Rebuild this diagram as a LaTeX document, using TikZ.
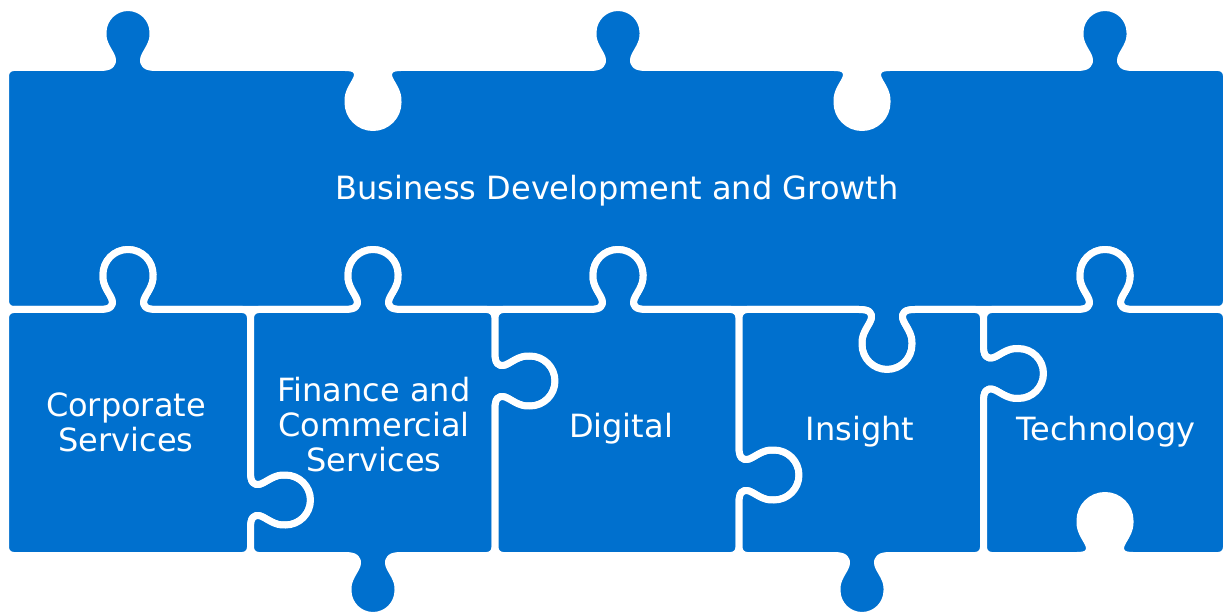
\documentclass[tikz,border=0pt]{standalone}
\usepackage{fontspec}
\setmainfont{DejaVu Sans}
\definecolor{pblue}{RGB}{0,112,206}
% point at offset (a,h) from base (bx,by) along u and n
\newcommand\kq[8]{({#1+(#7)*(#3)+(#8)*(#5)},{#2+(#7)*(#4)+(#8)*(#6)})}
% puzzle knob: base x,y ; direction of travel ux,uy ; knob direction nx,ny
\newcommand\knob[6]{\expanded{{[sharp corners]
 -- \kq{#1}{#2}{#3}{#4}{#5}{#6}{-28}{0}
 .. controls \kq{#1}{#2}{#3}{#4}{#5}{#6}{-18}{0} and \kq{#1}{#2}{#3}{#4}{#5}{#6}{-14}{3} .. \kq{#1}{#2}{#3}{#4}{#5}{#6}{-16}{10}
 .. controls \kq{#1}{#2}{#3}{#4}{#5}{#6}{-18}{16} and \kq{#1}{#2}{#3}{#4}{#5}{#6}{-26}{24} .. \kq{#1}{#2}{#3}{#4}{#5}{#6}{-25}{35}
 .. controls \kq{#1}{#2}{#3}{#4}{#5}{#6}{-25}{48.8} and \kq{#1}{#2}{#3}{#4}{#5}{#6}{-13.8}{60} .. \kq{#1}{#2}{#3}{#4}{#5}{#6}{0}{60}
 .. controls \kq{#1}{#2}{#3}{#4}{#5}{#6}{13.8}{60} and \kq{#1}{#2}{#3}{#4}{#5}{#6}{25}{48.8} .. \kq{#1}{#2}{#3}{#4}{#5}{#6}{25}{35}
 .. controls \kq{#1}{#2}{#3}{#4}{#5}{#6}{26}{24} and \kq{#1}{#2}{#3}{#4}{#5}{#6}{18}{16} .. \kq{#1}{#2}{#3}{#4}{#5}{#6}{16}{10}
 .. controls \kq{#1}{#2}{#3}{#4}{#5}{#6}{14}{3} and \kq{#1}{#2}{#3}{#4}{#5}{#6}{18}{0} .. \kq{#1}{#2}{#3}{#4}{#5}{#6}{28}{0}}}}
\tikzset{
  piece/.style={fill=pblue, draw=white, line width=7pt, rounded corners=8pt, line join=round},
  lbl/.style={text=white, align=center, inner sep=0pt, font=\fontsize{32}{35}\selectfont}
}
\begin{document}
\begin{tikzpicture}[x=1pt,y=-1pt]
\useasboundingbox (0,0) rectangle (1224,612);
% top piece
\path[piece] (5.5,67.5)
  \knob{128}{67.5}{1}{0}{0}{-1}
  \knob{373}{67.5}{1}{0}{0}{1}
  \knob{618}{67.5}{1}{0}{0}{-1}
  \knob{862}{67.5}{1}{0}{0}{1}
  \knob{1105}{67.5}{1}{0}{0}{-1}
  -- (1226.5,67.5) -- (1226.5,309.5)
  \knob{1105}{309.5}{-1}{0}{0}{-1}
  \knob{887}{309.5}{-1}{0}{0}{1}
  \knob{618}{309.5}{-1}{0}{0}{-1}
  \knob{373}{309.5}{-1}{0}{0}{-1}
  \knob{128}{309.5}{-1}{0}{0}{-1}
  -- (5.5,309.5) -- cycle;
% corporate
\path[piece] (5.5,309.5)
  \knob{128}{309.5}{1}{0}{0}{-1}
  -- (250.5,309.5)
  \knob{250.5}{500}{0}{1}{1}{0}
  -- (250.5,555.5) -- (5.5,555.5) -- cycle;
% finance
\path[piece] (250.5,309.5)
  \knob{373}{309.5}{1}{0}{0}{-1}
  -- (495,309.5)
  \knob{495}{381}{0}{1}{1}{0}
  -- (495,555.5)
  \knob{373}{555.5}{-1}{0}{0}{1}
  -- (250.5,555.5)
  \knob{250.5}{500}{0}{-1}{1}{0}
  -- cycle;
% digital
\path[piece] (495,309.5)
  \knob{618}{309.5}{1}{0}{0}{-1}
  -- (739,309.5)
  \knob{739}{475}{0}{1}{1}{0}
  -- (739,555.5) -- (495,555.5)
  \knob{495}{381}{0}{-1}{1}{0}
  -- cycle;
% insight
\path[piece] (739,309.5)
  \knob{887}{309.5}{1}{0}{0}{1}
  -- (983.5,309.5)
  \knob{983.5}{373.5}{0}{1}{1}{0}
  -- (983.5,555.5)
  \knob{862}{555.5}{-1}{0}{0}{1}
  -- (739,555.5)
  \knob{739}{475}{0}{-1}{1}{0}
  -- cycle;
% technology
\path[piece] (983.5,309.5)
  \knob{1105}{309.5}{1}{0}{0}{-1}
  -- (1226.5,309.5) -- (1226.5,555.5)
  \knob{1105}{555.5}{-1}{0}{0}{-1}
  -- (983.5,555.5)
  \knob{983.5}{373.5}{0}{-1}{1}{0}
  -- cycle;
% labels
\node[lbl, anchor=base] (bdg) at (617,200) {Business Development and Growth};
\node[lbl] (corp) at (126,422) {Corporate\\Services};
\node[lbl] (fin) at (374,425) {Finance and\\Commercial\\Services};
\node[lbl, anchor=base] (dig) at (621,437) {Digital};
\node[lbl, anchor=base] (ins) at (860,440) {Insight};
\node[lbl, anchor=base] (tech) at (1106,440) {Technology};
\end{tikzpicture}
\end{document}
